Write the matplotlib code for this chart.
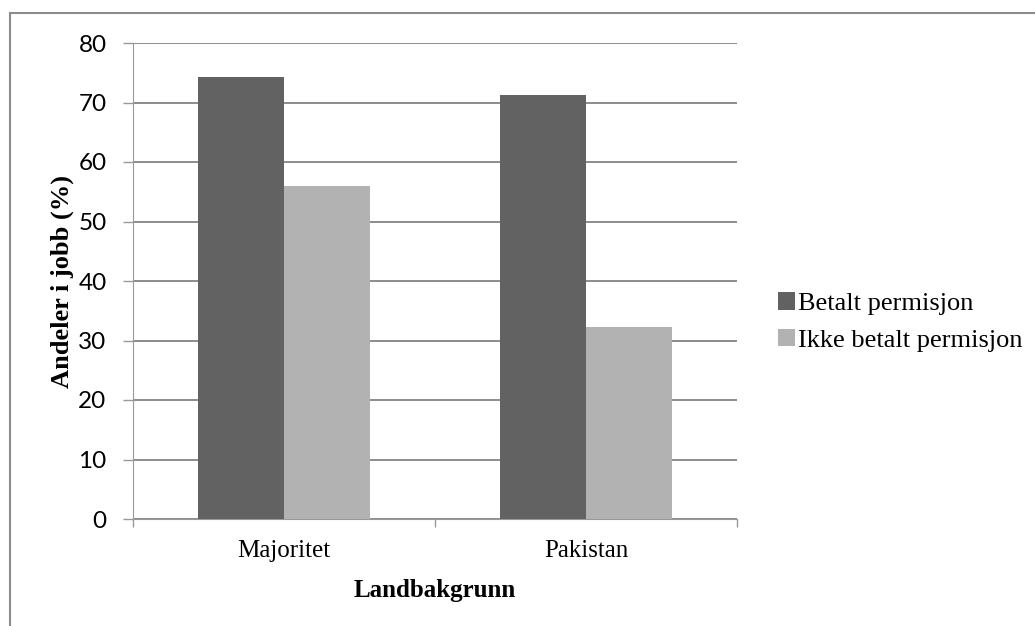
import matplotlib.pyplot as plt
import matplotlib.patches as mpatches
import numpy as np

categories = ['Majoritet', 'Pakistan']
series_names = ['Betalt permisjon', 'Ikke betalt permisjon']
betalt = [74.3, 71.2]
ikke_betalt = [55.9, 32.2]
y_ticks = [0, 10, 20, 30, 40, 50, 60, 70, 80]

dark = '#626262'
light = '#b2b2b2'
grid_col = '#8c8c8c'

fig = plt.figure(figsize=(10.35, 6.26), dpi=100)
ax = fig.add_axes([133 / 1035, 1 - 519 / 626, (737 - 133) / 1035, (519 - 43) / 626])

x = np.arange(len(categories))
w = 1 / 3.5
ax.bar(x - w / 2, betalt, w, color=dark, label=series_names[0], zorder=3)
ax.bar(x + w / 2, ikke_betalt, w, color=light, label=series_names[1], zorder=3)

ax.set_xlim(-0.5, 1.5)
ax.set_ylim(0, 80)
ax.set_yticks(y_ticks)
ax.yaxis.grid(True, color=grid_col, linewidth=1.4, zorder=0)
ax.set_axisbelow(True)

# x ticks sit at the category borders, labels at the centers
ax.set_xticks([-0.5, 0.5, 1.5])
ax.set_xticklabels([])
ax.set_xticks(x, minor=True)
ax.set_xticklabels(categories, minor=True, family='Liberation Serif', fontsize=18)
ax.tick_params(axis='x', which='minor', length=0, pad=15)
ax.tick_params(axis='x', which='major', length=6, color='#999999', width=1)
ax.tick_params(axis='y', length=7, color='#999999', width=1, pad=12)
for lab in ax.get_yticklabels():
    lab.set_family('Lato')
    lab.set_fontsize(17.5)

for s in ['top', 'right']:
    ax.spines[s].set_visible(False)
ax.spines['left'].set_color('#999999')
ax.spines['bottom'].set_color('#999999')

ax.set_xlabel('Landbakgrunn', family='Liberation Serif', fontsize=18, fontweight='bold', labelpad=12)
ax.set_ylabel('Andeler i jobb (%)', family='Liberation Serif', fontsize=19, fontweight='bold', labelpad=3)

ax.legend(loc='center left', bbox_to_anchor=(778 / 1035, 1 - 322 / 626),
          bbox_transform=fig.transFigure, frameon=False, borderpad=0, borderaxespad=0,
          handlelength=0.65, handleheight=0.65, handletextpad=0.1, labelspacing=0.5,
          prop={'family': 'Liberation Serif', 'size': 19})

# outer chart border
fig.patches.append(mpatches.Rectangle((10 / 1035, -0.05), 1.1, 1 - 13 / 626 + 0.05,
                                      transform=fig.transFigure, fill=False,
                                      edgecolor='#8c8c8c', linewidth=1.5))

fig.savefig('out.png', dpi=100)
